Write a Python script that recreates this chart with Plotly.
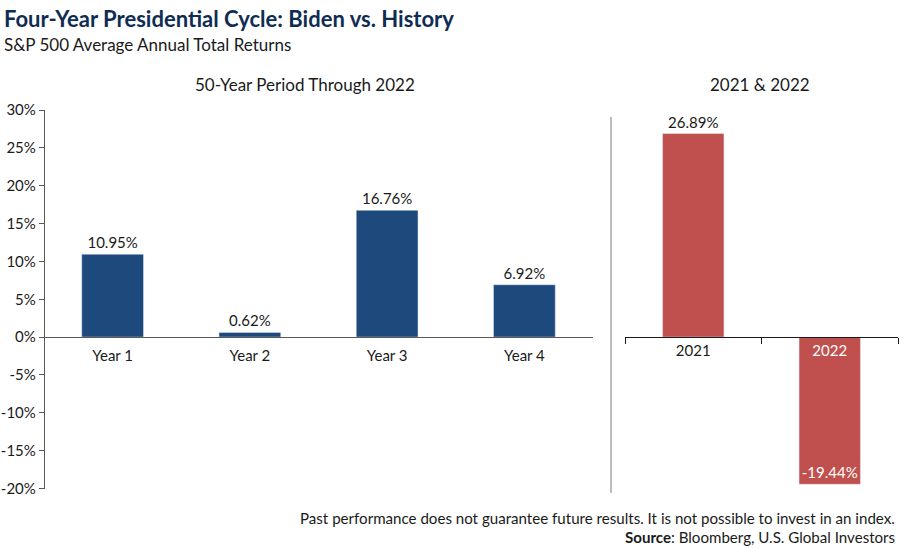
import plotly.graph_objects as go

W, H = 900, 548

cycle_years = ["Year 1", "Year 2", "Year 3", "Year 4"]
cycle_returns = [10.95, 0.62, 16.76, 6.92]

biden_years = ["2021", "2022"]
biden_returns = [26.89, -19.44]

y_ticks = [30, 25, 20, 15, 10, 5, 0, -5, -10, -15, -20]

BLUE = "#1d497c"
RED = "#c0504d"
FONT = "Lato"


def px_x(x):
    return x / W


def px_y(y):
    return 1 - y / H


y_dom = [px_y(488.5), px_y(110)]
zero_pos = px_y(337)

fig = go.Figure()

fig.add_trace(go.Bar(
    x=cycle_years, y=cycle_returns, xaxis="x", yaxis="y",
    marker=dict(color=BLUE), width=0.45,
    text=[f"{v:.2f}%" for v in cycle_returns], textposition="outside",
    textfont=dict(size=15, color="#1a1a1a", family=FONT), cliponaxis=False,
    showlegend=False, hoverinfo="skip", textangle=0,
))

fig.add_trace(go.Bar(
    x=biden_years, y=biden_returns, xaxis="x2", yaxis="y2",
    marker=dict(color=RED), width=0.45,
    text=[f"{v:.2f}%" for v in biden_returns],
    textposition=["outside", "inside"], insidetextanchor="end",
    textangle=0, constraintext="none",
    textfont=dict(size=15, family=FONT),
    outsidetextfont=dict(size=15, color="#1a1a1a", family=FONT),
    insidetextfont=dict(size=15, color="white", family=FONT),
    cliponaxis=False, showlegend=False, hoverinfo="skip",
))

fig.update_layout(
    width=W, height=H,
    margin=dict(l=0, r=0, t=0, b=0, autoexpand=False),
    paper_bgcolor="white", plot_bgcolor="white",
    font=dict(family=FONT, size=15, color="#1a1a1a"),
    xaxis=dict(
        domain=[px_x(44), px_x(593)], anchor="free", position=zero_pos,
        showline=True, linecolor="#595959", linewidth=1.3,
        ticks="", showgrid=False, tickfont=dict(size=15, family=FONT),
        ticklabelstandoff=5, automargin=False,
    ),
    yaxis=dict(
        domain=y_dom, range=[-20, 30], tickvals=y_ticks,
        ticktext=[f"{v}%" for v in y_ticks],
        showline=True, linecolor="#595959", linewidth=1.3,
        ticks="outside", ticklen=5, tickcolor="#595959",
        showgrid=False, zeroline=False, anchor="free", position=px_x(44),
        tickfont=dict(size=15, family=FONT), automargin=False,
    ),
    xaxis2=dict(
        domain=[px_x(625), px_x(898)], anchor="free", position=zero_pos,
        showline=True, linecolor="#1a1a1a", linewidth=1.3,
        ticks="outside", tickson="boundaries", ticklen=6, tickcolor="#1a1a1a",
        showgrid=False,
        tickvals=biden_years,
        ticktext=["2021", "<span style='color:white'>2022</span>"],
        tickfont=dict(size=15, family=FONT), automargin=False,
    ),
    yaxis2=dict(
        domain=y_dom, range=[-20, 30], visible=False,
        anchor="x2", showgrid=False, zeroline=False, automargin=False,
    ),
    bargap=0.55,
)

fig.add_shape(type="line", xref="paper", yref="paper",
              x0=px_x(611), x1=px_x(611), y0=px_y(117), y1=px_y(493),
              line=dict(color="#a6a6a6", width=1.5))

annos = [
    dict(text="<b>Four-Year Presidential Cycle: Biden vs. History</b>", x=px_x(2), y=px_y(18),
         xanchor="left", yanchor="middle", font=dict(size=22, color="#0f2d52", family=FONT)),
    dict(text="S&P 500 Average Annual Total Returns", x=px_x(2), y=px_y(44),
         xanchor="left", yanchor="middle", font=dict(size=17, color="#1a1a1a", family=FONT)),
    dict(text="50-Year Period Through 2022", x=px_x(305), y=px_y(84),
         xanchor="center", yanchor="middle", font=dict(size=17, color="#1a1a1a", family=FONT)),
    dict(text="2021 & 2022", x=px_x(760), y=px_y(84),
         xanchor="center", yanchor="middle", font=dict(size=17, color="#1a1a1a", family=FONT)),
    dict(text="Past performance does not guarantee future results. It is not possible to invest in an index.",
         x=px_x(897), y=px_y(518), xanchor="right", yanchor="middle",
         font=dict(size=15.1, color="#1a1a1a", family=FONT)),
    dict(text="<b>Source</b>: Bloomberg, U.S. Global Investors",
         x=px_x(897), y=px_y(537), xanchor="right", yanchor="middle",
         font=dict(size=15.1, color="#1a1a1a", family=FONT)),
]
for a in annos:
    fig.add_annotation(xref="paper", yref="paper", showarrow=False, **a)

fig.write_html(
    "out.html",
    config={"displayModeBar": False},
    post_script="document.body.style.margin='0';document.body.style.overflow='hidden';",
)
